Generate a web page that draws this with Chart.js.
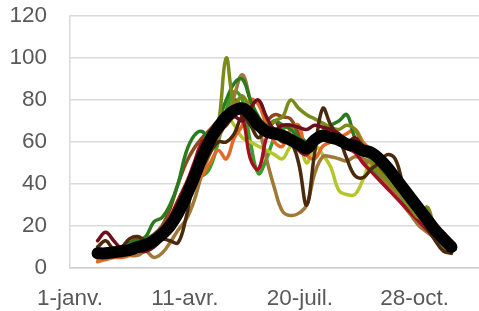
<!DOCTYPE html>
<html>
<head>
<meta charset="utf-8">
<script src="https://cdn.jsdelivr.net/npm/chart.js@4/dist/chart.umd.min.js"></script>
<style>
html, body { margin: 0; padding: 0; background: #ffffff; }
#wrap { width: 479px; height: 311px; }
</style>
</head>
<body>
<div id="wrap"><canvas id="myChart" width="479" height="311"></canvas></div>
<script>
// day of year for each weekly point
const days = [24, 31, 38, 45, 52, 59, 66, 73, 80, 87, 94, 101, 108, 115, 122, 129, 136, 143, 150, 157, 164, 171, 178, 185, 192, 199, 206, 213, 220, 227, 234, 241, 248, 255, 262, 269, 276, 283, 290, 297, 304, 311, 318, 325, 332];

const tickDays = [0, 100, 200, 300];
const tickLabels = ["1-janv.", "11-avr.", "20-juil.", "28-oct."];
const yTicks = [0, 20, 40, 60, 80, 100, 120];

const moyenne = [7, 7, 7.5, 8, 8.6, 10, 11, 13, 16, 20, 26, 34, 43, 53, 61, 67, 72, 75, 76, 73, 68, 65, 64, 63, 61, 59, 57, 61, 63, 62, 61, 59, 58, 56, 55, 52, 48, 43, 38, 33, 28, 23, 18, 14, 10];
const vertFonce = [6, 7, 9, 10, 12, 13, 15, 22, 24, 30, 40, 55, 63, 65, 60, 70, 80, 88, 90, 80, 72, 68, 70, 68, 66, 62, 60, 62, 65, 68, 70, 73, 62, 58, 55, 50, 44, 40, 36, 30, 25, 20, 15, 11, 8];
const olive = [5, 6, 7, 8, 9, 10, 12, 14, 17, 22, 30, 38, 45, 50, 58, 68, 100, 78, 82, 75, 68, 66, 70, 72, 80, 76, 73, 71, 69, 67, 66, 68, 66, 58, 52, 46, 42, 38, 34, 28, 24, 29, 18, 13, 9];
const beige = [5, 6, 6, 7, 6, 6, 8, 5, 7, 12, 18, 23, 32, 45, 55, 62, 70, 82, 92, 80, 68, 52, 38, 27, 25, 26, 30, 45, 53, 53, 52, 51, 53, 52, 50, 45, 40, 36, 30, 25, 20, 17, 14, 10, 8];
const brunFonce = [10, 13, 9, 10, 14, 15, 13, 14, 14, 13, 12, 24, 42, 48, 55, 60, 60, 64, 72, 68, 62, 66, 64, 60, 60, 50, 30, 55, 76, 68, 62, 52, 44, 43, 47, 50, 54, 52, 40, 32, 26, 19, 13, 8, 7];
const bordeaux = [13, 17, 13, 9, 8, 8, 8, 10, 14, 20, 28, 36, 44, 52, 60, 64, 68, 72, 70, 76, 80, 72, 66, 68, 68, 67, 66, 68, 67, 66, 64, 60, 62, 58, 55, 50, 45, 40, 35, 30, 25, 20, 15, 12, 10];
const rouge = [6, 7, 8, 9, 9, 10, 12, 14, 18, 24, 32, 40, 50, 60, 62, 66, 72, 75, 72, 52, 47, 62, 70, 64, 60, 56, 54, 60, 62, 66, 60, 57, 55, 50, 46, 42, 38, 34, 30, 26, 22, 18, 14, 11, 9];
const orange = [3, 4, 5, 5, 6, 8, 9, 12, 16, 22, 28, 34, 40, 44, 50, 56, 52, 62, 68, 80, 78, 68, 60, 58, 66, 68, 54, 52, 58, 60, 62, 64, 66, 60, 56, 52, 48, 42, 36, 30, 26, 22, 17, 14, 12];
const jauneVert = [4, 5, 6, 7, 8, 9, 10, 12, 15, 20, 26, 34, 42, 46, 55, 66, 72, 68, 62, 60, 58, 56, 54, 52, 58, 60, 50, 58, 54, 48, 37, 35, 35, 42, 50, 48, 44, 40, 34, 28, 24, 20, 16, 12, 10];
const vert = [5, 6, 7, 9, 10, 11, 12, 14, 18, 24, 32, 40, 46, 44, 48, 60, 75, 84, 80, 60, 45, 52, 62, 66, 68, 64, 60, 62, 65, 66, 62, 58, 56, 52, 48, 44, 40, 36, 32, 28, 23, 18, 14, 10, 7];
const brun = [5, 6, 8, 10, 12, 14, 14, 16, 20, 28, 40, 50, 57, 62, 66, 70, 72, 80, 76, 70, 68, 70, 73, 72, 71, 64, 58, 60, 62, 64, 60, 58, 56, 54, 52, 48, 44, 40, 35, 30, 25, 20, 16, 12, 9];

function pts(arr) {
	return arr.map(function (v, i) { return { x: days[i], y: v }; });
}

function serie(arr, color, w) {
	return {
		data: pts(arr),
		borderColor: color,
		backgroundColor: color,
		borderWidth: w,
		pointRadius: 0,
		tension: 0.4,
		borderCapStyle: 'round',
		borderJoinStyle: 'round',
		fill: false
	};
}

new Chart("myChart", {
	type: "line",
	data: {
		datasets: [
			serie(moyenne, "#000000", 12),
			serie(bordeaux, "#6e0f1c", 3.5),
			serie(brunFonce, "#4a2a0c", 3.5),
			serie(olive, "#7b8a19", 3.5),
			serie(vertFonce, "#2a7a1e", 3.5),
			serie(rouge, "#a50f22", 3.5),
			serie(orange, "#e26a28", 3.5),
			serie(beige, "#a07838", 3.5),
			serie(brun, "#8c4a1e", 3.5),
			serie(jauneVert, "#b5c62a", 3.5),
			serie(vert, "#3a9e2a", 3.5)
		]
	},
	options: {
		responsive: false,
		animation: false,
		layout: { padding: { top: 16, right: 0, left: 0, bottom: 0 } },
		scales: {
			x: {
				type: "linear",
				min: 0,
				max: 356,
				afterBuildTicks: function (scale) {
					scale.ticks = tickDays.map(function (d) { return { value: d }; });
				},
				afterFit: function (scale) { scale.height = 43; },
				ticks: {
					autoSkip: false,
					maxRotation: 0,
					padding: 0,
					color: "#595959",
					font: { family: "'Liberation Sans', Arial, sans-serif", size: 22.5 },
					callback: function (value) {
						var k = tickDays.indexOf(value);
						return k >= 0 ? tickLabels[k] : "";
					}
				},
				grid: { display: false, drawTicks: true, tickLength: 17, tickColor: "rgba(0,0,0,0)" },
				border: { display: true, color: "#d0d0d0", width: 1.5 }
			},
			y: {
				min: 0,
				max: 120,
				afterBuildTicks: function (scale) {
					scale.ticks = yTicks.map(function (v) { return { value: v }; });
				},
				afterFit: function (scale) { scale.width = 70; },
				ticks: {
					padding: 0,
					color: "#595959",
					font: { family: "'Liberation Sans', Arial, sans-serif", size: 22.5 }
				},
				grid: { color: "#d9d9d9", lineWidth: 1.5, drawTicks: true, tickLength: 23, tickColor: "rgba(0,0,0,0)" },
				border: { display: true, color: "#d9d9d9", width: 1.5 }
			}
		},
		plugins: {
			legend: { display: false },
			tooltip: { enabled: false }
		}
	}
});
</script>
</body>
</html>
